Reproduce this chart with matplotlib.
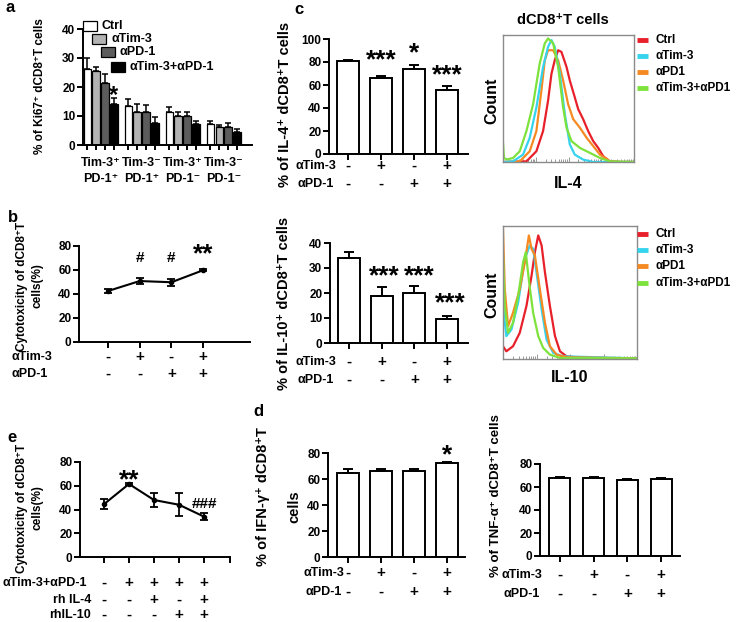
import matplotlib
matplotlib.use("Agg")
import matplotlib.pyplot as plt
from matplotlib.patches import Rectangle
from matplotlib.lines import Line2D
from matplotlib.transforms import blended_transform_factory as btf
import numpy as np

W, H = 737, 622
plt.rcParams['font.family'] = ['Liberation Sans', 'DejaVu Sans']
plt.rcParams['font.weight'] = 'bold'
plt.rcParams['axes.linewidth'] = 1.4

# ---------------- data ----------------
a_groups = ["Tim-3⁺\nPD-1⁺", "Tim-3⁻\nPD-1⁺", "Tim-3⁺\nPD-1⁻", "Tim-3⁻\nPD-1⁻"]
a_series = ["Ctrl", "αTim-3", "αPD-1", "αTim-3+αPD-1"]
a_ctrl = [26.2, 13.6, 11.3, 7.2]
a_tim3 = [25.5, 11.3, 10.1, 6.1]
a_pd1 = [21.3, 11.5, 10.0, 6.3]
a_combo = [14.1, 7.5, 7.1, 4.6]
a_ctrl_err = [3.7, 2.3, 1.7, 1.2]
a_tim3_err = [1.5, 2.7, 1.4, 0.7]
a_pd1_err = [3.2, 2.3, 1.5, 1.2]
a_combo_err = [2.0, 2.3, 1.3, 0.9]

tim3_signs = ['-', '+', '-', '+']
pd1_signs = ['-', '-', '+', '+']

b_vals = [42.5, 50.8, 49.8, 59.8]
b_err = [2.0, 2.8, 2.8, 1.0]
b_marks = ['', '#', '#', '**']

e_vals = [44.5, 61.5, 48.0, 44.0, 34.0]
e_err = [4.0, 1.0, 5.5, 9.5, 3.2]
e_marks = ['', '**', '', '', '###']
e_rows = ["αTim-3+αPD-1", "rh IL-4", "rhIL-10"]
e_combo_signs = ['-', '+', '+', '+', '+']
e_il4_signs = ['-', '-', '+', '-', '+']
e_il10_signs = ['-', '-', '-', '+', '+']

il4_vals = [80.5, 66.0, 74.0, 56.0]
il4_err = [1.3, 1.5, 3.0, 3.0]
il4_marks = ['', '***', '*', '***']

il10_vals = [34.0, 19.0, 20.0, 9.5]
il10_err = [2.5, 3.5, 3.0, 1.5]
il10_marks = ['', '***', '***', '***']

ifn_vals = [65.0, 66.0, 66.0, 72.0]
ifn_err = [2.5, 2.0, 2.0, 1.0]
ifn_marks = ['', '', '', '*']

tnf_vals = [68.0, 67.5, 66.5, 67.0]
tnf_err = [0.5, 1.0, 0.5, 0.7]

hist_labels = ["Ctrl", "αTim-3", "αPD1", "αTim-3+αPD1"]
hist_colors = ['#e8202a', '#35d3ee', '#f58a22', '#7ee23c']

il4_ctrl_x = [0, 17.9, 25.5, 30.6, 34.4, 37.0, 39.5, 42.1, 44.6, 48.5, 51.0, 54.8, 57.4, 61.2, 65.0, 68.9, 72.7, 76.5, 81.6, 90, 100]
il4_ctrl_y = [0, 0.5, 8.5, 24.4, 48.3, 69.5, 80.1, 88.0, 86.7, 74.8, 64.2, 50.9, 41.6, 33.7, 24.4, 16.4, 11.1, 4.5, 0.5, 0, 0]
il4_tim3_x = [0, 7.7, 15.3, 20.4, 25.5, 30.6, 34.4, 37.0, 39.5, 43.4, 47.2, 51.0, 54.8, 61.2, 68.9, 100]
il4_tim3_y = [0, 0.5, 5.8, 19.1, 43.0, 74.8, 90.7, 96.0, 90.7, 69.5, 37.7, 13.8, 5.8, 1.9, 0, 0]
il4_pd1_x = [0, 12.8, 20.4, 25.5, 29.3, 31.9, 34.4, 38.3, 42.1, 45.9, 49.7, 53.6, 58.7, 63.8, 68.9, 74.0, 81.6, 90, 100]
il4_pd1_y = [0, 0.5, 8.5, 24.4, 56.2, 80.1, 88.0, 88.0, 80.1, 64.2, 45.6, 33.7, 27.0, 19.1, 12.5, 5.8, 0.5, 0, 0]
il4_combo_x = [0, 0.8, 3, 7.7, 12.8, 17.9, 23.0, 28.0, 31.9, 34.4, 38.3, 42.1, 45.9, 48.5, 52.3, 58.7, 66.3, 74.0, 81.6, 100]
il4_combo_y = [15, 3, 2, 3.2, 8.5, 24.4, 45.6, 77.5, 93.4, 97.3, 93.4, 74.8, 43.0, 27.0, 16.4, 11.1, 7.2, 3.2, 0.5, 0]

il10_ctrl_x = [0, 2.5, 7.5, 12.5, 17.5, 21.3, 23.8, 26.3, 28.8, 31.3, 35.0, 38.8, 42.5, 47.5, 60, 100]
il10_ctrl_y = [9.6, 5.8, 9.6, 19.7, 39.9, 62.6, 80.3, 92.9, 85.4, 65.2, 39.9, 17.2, 5.8, 2.0, 0.8, 0.5]
il10_tim3_x = [0, 2.5, 6.3, 11.3, 16.3, 20, 22.5, 25, 28.8, 32.5, 37.5, 45, 100]
il10_tim3_y = [39.9, 17.2, 22.2, 42.4, 75.3, 85.4, 82.8, 65.2, 37.4, 14.6, 4.5, 2.0, 0.5]
il10_pd1_x = [0, 1.3, 3.8, 7.5, 12.5, 16.3, 19.3, 21.3, 23.8, 27.5, 31.3, 35, 40, 47.5, 100]
il10_pd1_y = [98, 52.5, 24.7, 34.8, 52.5, 72.7, 92.9, 82.8, 77.8, 52.5, 27.3, 9.6, 3.3, 1.3, 0.5]
il10_combo_x = [0, 1.3, 3.8, 7.5, 11.3, 15, 17, 19.5, 22.5, 26.3, 30, 35, 42.5, 100]
il10_combo_y = [77.8, 39.9, 19.7, 27.3, 47.5, 72.7, 80.3, 57.6, 34.8, 17.2, 8.3, 3.3, 0.8, 0.5]

# ---------------- helpers ----------------
fig = plt.figure(figsize=(W / 100, H / 100), dpi=100)

TICK_FS = 8.5
ROW_FS = 9
SIGN_FS = 11


def add_ax(x0, x1, yt, yb):
    ax = fig.add_axes([x0 / W, 1 - yb / H, (x1 - x0) / W, (yb - yt) / H])
    for s in ['top', 'right']:
        ax.spines[s].set_visible(False)
    ax.tick_params(direction='out', length=4, width=1.4, labelsize=TICK_FS, pad=1.5)
    return ax


def ftext(x, y, s, **kw):
    kw.setdefault('ha', 'center')
    kw.setdefault('va', 'center')
    return fig.text(x / W, 1 - y / H, s, **kw)


def mark(ax, x, ypx, s, size):
    """Place significance marks; ypx is the visual centre of the glyphs in pixels."""
    if not s:
        return
    em = size * 100 / 72
    off = 0.58 * em if s.startswith('*') else 0.36 * em
    tr = btf(ax.transData, fig.transFigure)
    ax.text(x, 1 - (ypx + off) / H, s, transform=tr, ha='center', va='baseline',
            fontsize=size, fontweight='bold')


def sign_row(ax, xs, signs, ypx, label=None, lx=None, ha='left'):
    tr = btf(ax.transData, fig.transFigure)
    for x, s in zip(xs, signs):
        ax.text(x, 1 - ypx / H, s, transform=tr, ha='center', va='center',
                fontsize=SIGN_FS, fontweight='bold')
    if label is not None:
        ftext(lx, ypx, label, ha=ha, fontsize=ROW_FS)


def bar_panel(ax, vals, err, width, ylim, yticks):
    x = np.arange(1, len(vals) + 1)
    ax.bar(x, vals, width=width, color='white', edgecolor='black', linewidth=1.4,
           yerr=[np.zeros(len(err)), err], capsize=3.5,
           error_kw=dict(elinewidth=1.4, capthick=1.4, ecolor='black'))
    ax.set_ylim(*ylim)
    ax.set_yticks(yticks)
    ax.set_xticks(x)
    ax.set_xticklabels([])
    return x

# ---------------- panel a ----------------
ax_a = add_ax(83, 252, 29, 145)
step = 4.66
a_vals_all = [a_ctrl, a_tim3, a_pd1, a_combo]
a_err_all = [a_ctrl_err, a_tim3_err, a_pd1_err, a_combo_err]
a_colors = ['white', '#b3b3b3', '#5c5c5c', 'black']
centers = []
for i, (v, e, c) in enumerate(zip(a_vals_all, a_err_all, a_colors)):
    xs = np.arange(len(a_groups)) * step + i
    centers.extend(xs)
    ax_a.bar(xs, v, width=0.85, color=c, edgecolor='black', linewidth=0.9,
             yerr=[np.zeros(len(e)), e], capsize=2,
             error_kw=dict(elinewidth=1.1, capthick=1.1, ecolor='black'))
ax_a.set_xlim(-0.5, 18.7)
ax_a.set_ylim(0, 40)
ax_a.set_yticks([0, 10, 20, 30, 40])
ax_a.set_xticks(sorted(centers))
ax_a.set_xticklabels([])
ax_a.tick_params(axis='x', length=3.5)
tr_a = btf(ax_a.transData, fig.transFigure)
for g, lab in enumerate(a_groups):
    l1, l2 = lab.split('\n')
    xc = g * step + 1.5
    ax_a.text(xc, 1 - 163 / H, l1, transform=tr_a, ha='center', va='center', fontsize=9)
    ax_a.text(xc, 1 - 179 / H, l2, transform=tr_a, ha='center', va='center', fontsize=9)
mark(ax_a, 3, 88, '*', 17)
# staggered legend
leg_box = [(83, 21), (92, 34), (101, 47), (111, 62)]
for (bx, by), c, lab in zip(leg_box, a_colors, a_series):
    fig.add_artist(Rectangle((bx / W, 1 - (by + 10) / H), 14 / W, 10 / H, transform=fig.transFigure,
                             facecolor=c, edgecolor='black', linewidth=0.9))
    ftext(bx + 19, by + 5, lab, ha='left', fontsize=9)
ftext(40, 86, "% of Ki67⁺ dCD8⁺T cells", rotation=90, fontsize=8.5)
ftext(10, 8, "a", fontsize=12)

# ---------------- panel b ----------------
ax_b = add_ax(79, 250, 246, 342)
xb = np.arange(1, len(b_vals) + 1)
ax_b.errorbar(xb, b_vals, yerr=b_err, fmt='-o', color='black', ms=3, lw=1.5,
              capsize=3, elinewidth=1.3, capthick=1.3)
ax_b.set_xlim(0.085, 5.48)
ax_b.set_ylim(0, 80)
ax_b.set_yticks([0, 20, 40, 60, 80])
ax_b.set_xticks(xb)
ax_b.set_xticklabels([])
for x, m in zip(xb, b_marks):
    if m == '#':
        mark(ax_b, x, 256, m, 11)
    elif m:
        mark(ax_b, x, 246, m, 19)
sign_row(ax_b, xb, tim3_signs, 357, "αTim-3", 12)
sign_row(ax_b, xb, pd1_signs, 374, "αPD-1", 12)
ftext(22, 286, "Cytotoxicity of dCD8⁺T", rotation=90, fontsize=8.5)
ftext(38, 286, "cells(%)", rotation=90, fontsize=8.5)
ftext(13, 217, "b", fontsize=12)

# ---------------- panel e ----------------
ax_e = add_ax(80, 230, 462, 557)
xe = np.arange(1, len(e_vals) + 1)
ax_e.errorbar(xe, e_vals, yerr=e_err, fmt='-o', color='black', ms=3, lw=1.5,
              capsize=3, elinewidth=1.3, capthick=1.3)
ax_e.set_xlim(0.04, 6.04)
ax_e.set_ylim(0, 80)
ax_e.set_yticks([0, 20, 40, 60, 80])
ax_e.set_xticks(list(xe) + [6.04])
ax_e.set_xticklabels([])
mark(ax_e, 2, 472, '**', 19)
mark(ax_e, 5, 502, '###', 11)
sign_row(ax_e, xe, e_combo_signs, 583, e_rows[0], 3)
sign_row(ax_e, xe, e_il4_signs, 600, e_rows[1], 91, ha='right')
sign_row(ax_e, xe, e_il10_signs, 615, e_rows[2], 91, ha='right')
ftext(22, 508, "Cytotoxicity of dCD8⁺T", rotation=90, fontsize=8.5)
ftext(38, 508, "cells(%)", rotation=90, fontsize=8.5)
ftext(12, 437, "e", fontsize=12)

# ---------------- panel c: IL-4 ----------------
ax_c = add_ax(329, 468, 39, 154)
xc4 = bar_panel(ax_c, il4_vals, il4_err, 0.67, (0, 100), [0, 20, 40, 60, 80, 100])
ax_c.set_xlim(0.42, 4.64)
for x, m, yp in zip(xc4, il4_marks, [0, 52, 45, 67]):
    mark(ax_c, x, yp, m, 19)
sign_row(ax_c, xc4, tim3_signs, 166, "αTim-3", 296)
sign_row(ax_c, xc4, pd1_signs, 184, "αPD-1", 298)
ftext(285, 104, "% of IL-4⁺ dCD8⁺T cells", rotation=90, fontsize=10.5)
ftext(299, 9, "c", fontsize=12)

# ---------------- IL-10 ----------------
ax_c2 = add_ax(330, 468, 243, 343)
xc10 = bar_panel(ax_c2, il10_vals, il10_err, 0.67, (0, 40), [0, 10, 20, 30, 40])
ax_c2.set_xlim(0.42, 4.64)
for x, m, yp, dx in zip(xc10, il10_marks, [0, 268, 268, 295], [0, 0.08, 0.16, 0.1]):
    mark(ax_c2, x + dx, yp, m, 19)
sign_row(ax_c2, xc10, tim3_signs, 362, "αTim-3", 296)
sign_row(ax_c2, xc10, pd1_signs, 380, "αPD-1", 298)
ftext(284, 303, "% of IL-10⁺ dCD8⁺T cells", rotation=90, fontsize=10.5)

# ---------------- panel d: IFN-gamma ----------------
ax_d1 = add_ax(328, 465, 453, 557)
xd1 = bar_panel(ax_d1, ifn_vals, ifn_err, 0.67, (0, 80), [0, 20, 40, 60, 80])
ax_d1.set_xlim(0.39, 4.55)
mark(ax_d1, 4, 447, '*', 19)
sign_row(ax_d1, xd1, tim3_signs, 573, "αTim-3", 303)
sign_row(ax_d1, xd1, pd1_signs, 592, "αPD-1", 305)
ftext(263, 497, "% of IFN-γ⁺ dCD8⁺T", rotation=90, fontsize=10.5)
ftext(294, 507, "cells", rotation=90, fontsize=10.5)
ftext(258, 412, "d", fontsize=12)

# ---------------- TNF-alpha ----------------
ax_d2 = add_ax(540, 680, 464, 556)
xd2 = bar_panel(ax_d2, tnf_vals, tnf_err, 0.62, (0, 80), [0, 20, 40, 60, 80])
ax_d2.set_xlim(0.41, 4.56)
sign_row(ax_d2, xd2, tim3_signs, 575, "αTim-3", 502)
sign_row(ax_d2, xd2, pd1_signs, 594, "αPD-1", 504)
ftext(496, 496, "% of TNF-α⁺ dCD8⁺T cells", rotation=90, fontsize=9.5)

# ---------------- histograms ----------------
def hist_panel(x0, x1, yt, yb, curves, order, legend_y, xlabel, xl_y):
    ax = fig.add_axes([x0 / W, 1 - yb / H, (x1 - x0) / W, (yb - yt) / H])
    for s in ax.spines.values():
        s.set_color('#8a8a8a')
        s.set_linewidth(1.0)
    for idx in order:
        cx, cy = curves[idx]
        ax.plot(cx, cy, color=hist_colors[idx], lw=1.6, solid_joinstyle='round')
    ax.set_xlim(0, 100)
    ax.set_ylim(0, 100)
    ax.set_yticks([])
    minors = []
    for d0 in [0, 25, 50, 75]:
        minors += [d0 + 25 * np.log10(k) for k in range(2, 10)]
    ax.set_xticks([0, 25, 50, 75, 100])
    ax.set_xticks(minors, minor=True)
    ax.set_xticklabels([])
    ax.tick_params(axis='x', which='both', direction='in', length=2.5, width=0.7, colors='#999999')
    ax.tick_params(axis='x', which='major', length=3.5)
    for j, (c, lab) in enumerate(zip(hist_colors, hist_labels)):
        y = legend_y[j]
        fig.add_artist(Line2D([637 / W, 648 / W], [1 - y / H, 1 - y / H], transform=fig.transFigure,
                              color=c, lw=3.5, solid_capstyle='butt'))
        ftext(655, y, lab, ha='left', fontsize=8.5)
    ftext((x0 + x1) / 2, xl_y, xlabel, fontsize=11.5)
    ftext(492, (yt + yb) / 2 + 2, "Count", rotation=90, fontsize=11.5)
    return ax

il4_curves = [(il4_ctrl_x, il4_ctrl_y), (il4_tim3_x, il4_tim3_y), (il4_pd1_x, il4_pd1_y), (il4_combo_x, il4_combo_y)]
il10_curves = [(il10_ctrl_x, il10_ctrl_y), (il10_tim3_x, il10_tim3_y), (il10_pd1_x, il10_pd1_y), (il10_combo_x, il10_combo_y)]
hist_panel(503, 634, 35, 162, il4_curves, [0, 2, 1, 3], [40, 56, 72, 88], "IL-4", 183)
ftext(563, 20, "dCD8⁺T cells", fontsize=10.5)
hist_panel(503, 637, 226, 359, il10_curves, [0, 1, 2, 3], [234, 250, 266, 283], "IL-10", 377)

fig.savefig("out.png", dpi=100)
